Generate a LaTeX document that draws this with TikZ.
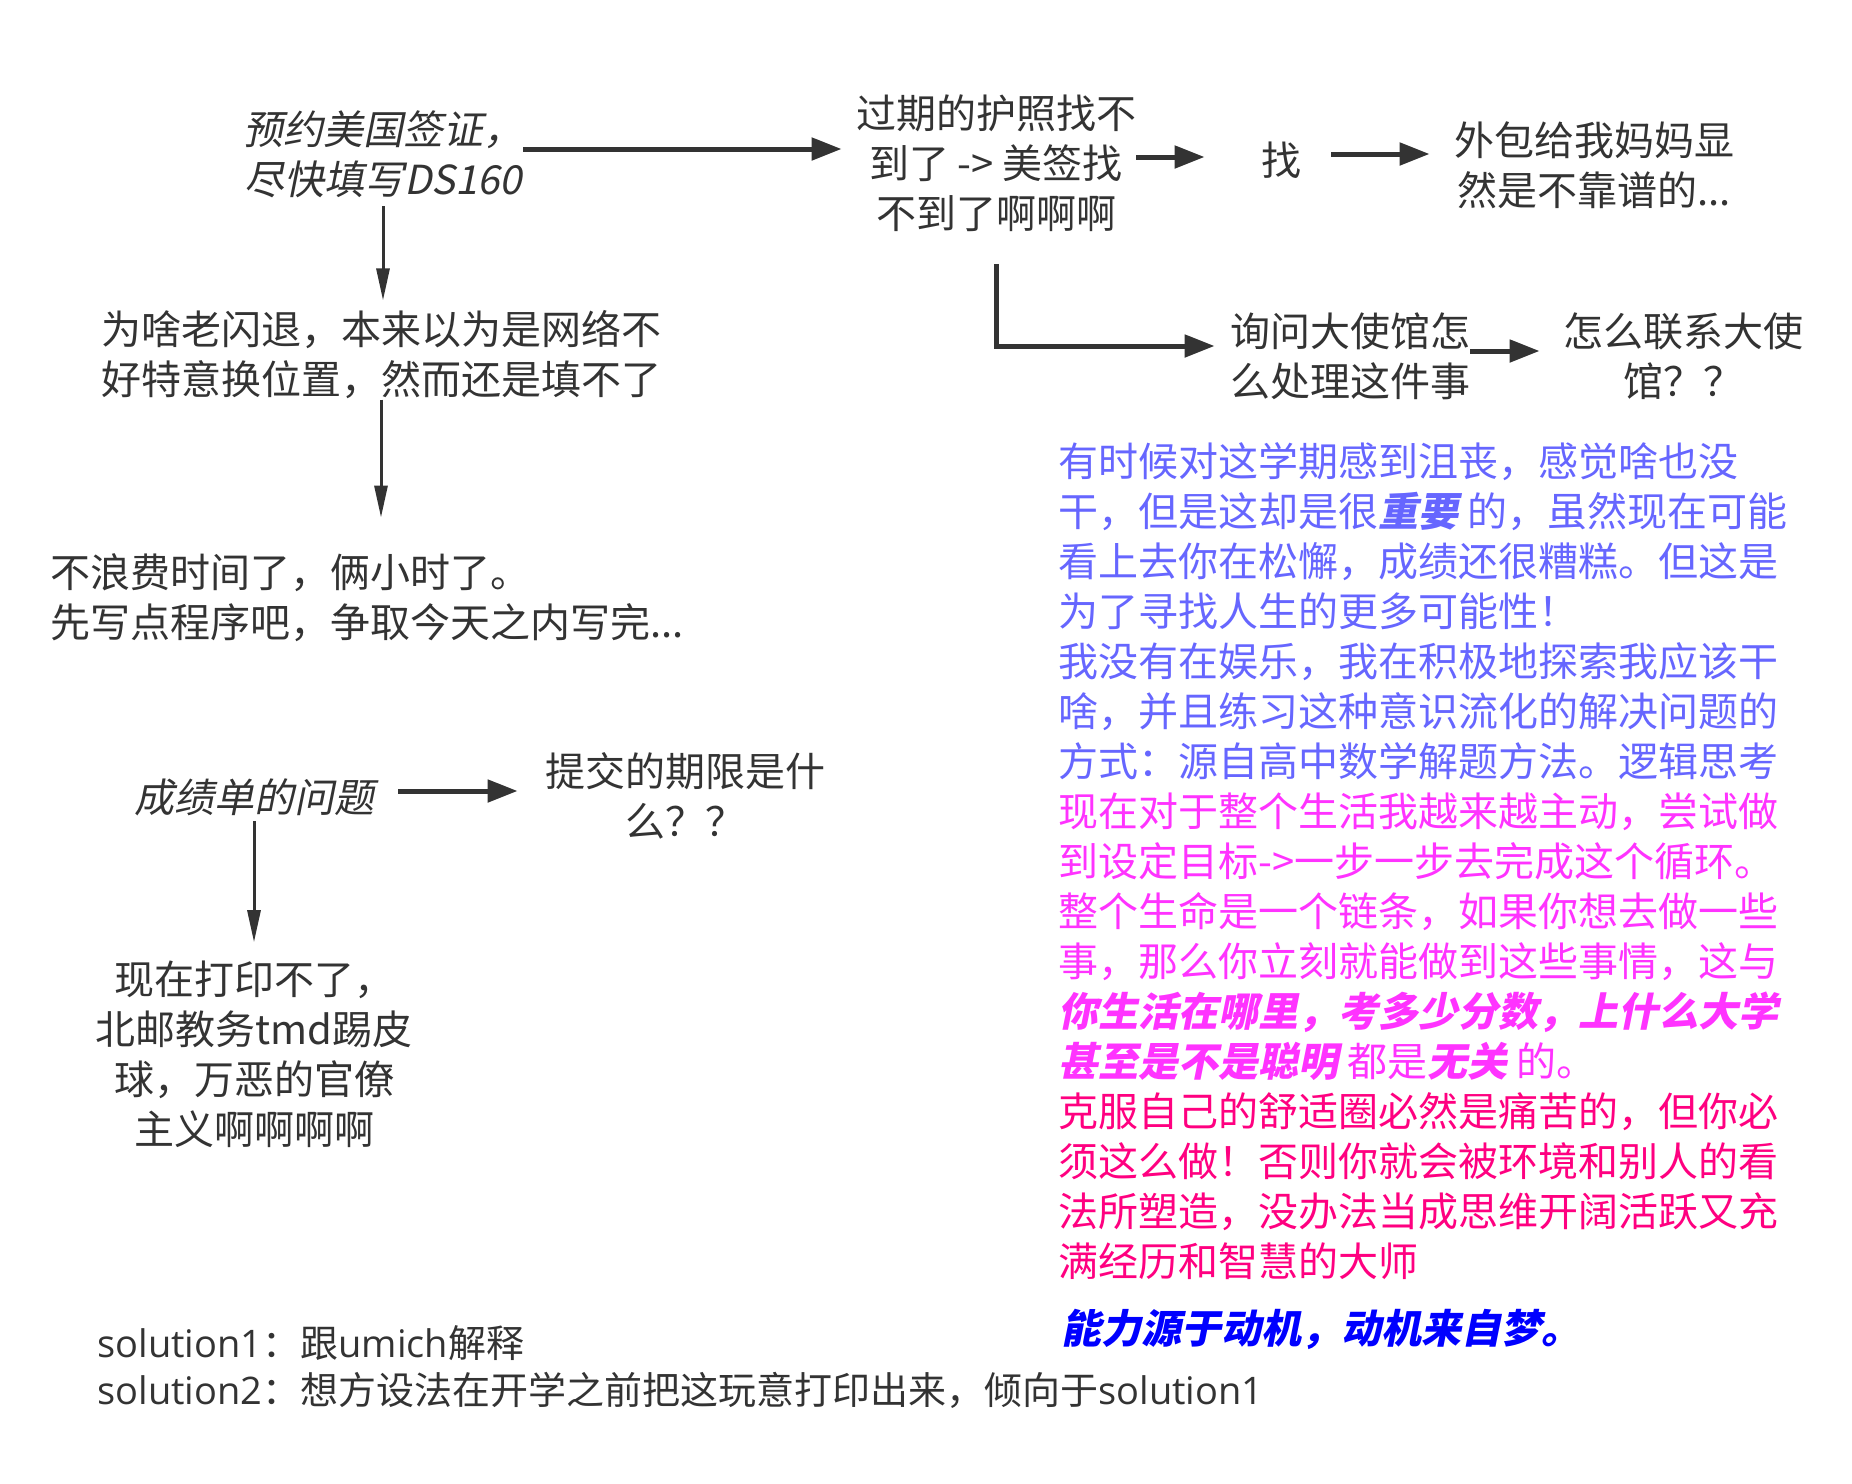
\documentclass[tikz,border=0pt]{standalone}
\usepackage{fontspec}
\setmainfont{Noto Sans CJK SC}
\newfontfamily\slantfont{Noto Sans CJK SC}[FakeSlant=0.2]
\newfontfamily\latinfont{Open Sans}
\usetikzlibrary{arrows.meta,positioning}
\definecolor{inkgray}{HTML}{333333}
\definecolor{calmblue}{HTML}{6666FF}
\definecolor{brightpink}{HTML}{FF33FF}
\definecolor{hotpink}{HTML}{FF0080}
\definecolor{pureblue}{HTML}{0000FF}
\newcommand\bodysize{\fontsize{20}{25}\selectfont}
\newcommand\smallsize{\fontsize{19}{23.5}\selectfont}
\newcommand\strongslant[1]{{\slantfont\bfseries #1}}

\begin{document}
\begin{tikzpicture}[
    x=0.5pt, y=-0.5pt,
    txt/.style={inner sep=0pt, align=center, text=inkgray, font=\bodysize},
    slanted/.style={txt, font=\bodysize\slantfont},
    note/.style={txt, align=left},
    arrow/.style={-{Triangle[length=15pt,width=11pt]}, line width=2.5pt, draw=inkgray},
    thinarrow/.style={-{Triangle[length=16pt,width=6.5pt]}, line width=1.5pt, draw=inkgray}
]
    \useasboundingbox (0,0) rectangle (1852,1483);

    % visa branch
    \node [slanted] (visa) at (383,154) {预约美国签证，\\尽快填写DS160};
    \node [txt] (passport) at (996,163) {过期的护照找不\\到了 -> 美签找\\不到了啊啊啊};
    \node [txt] (find) at (1281,160) {找};
    \node [txt] (outsource) at (1594,165) {外包给我妈妈显\\然是不靠谱的...};
    \node [txt] (askembassy) at (1350,356) {询问大使馆怎\\么处理这件事};
    \node [txt] (contact) at (1683,356) {怎么联系大使\\馆？？};
    \node [txt] (crash) at (381,355) {为啥老闪退，本来以为是网络不\\好特意换位置，然而还是填不了};
    \node [note, anchor=west] (giveup) at (50,598) {不浪费时间了，俩小时了。\\先写点程序吧，争取今天之内写完...};

    \draw [arrow, shorten >=7pt] ([yshift=2.5pt]visa.east) -- ([yshift=2.5pt]visa.east -| passport.west);
    \draw [arrow, shorten >=28pt] ([yshift=3pt]passport.east) -- ([yshift=3pt]passport.east -| find.west);
    \draw [arrow, shorten <=15pt, shorten >=12pt] ([yshift=3pt]find.east) -- ([yshift=3pt]find.east -| outsource.west);
    \draw [arrow, shorten <=16pt, shorten >=7.5pt] (passport.south) |- ([yshift=5pt]askembassy.west);
    \draw [arrow, shorten >=11.5pt] ([yshift=2.5pt]askembassy.east) -- ([yshift=2.5pt]askembassy.east -| contact.west);
    \draw [thinarrow, shorten <=4pt, shorten >=5pt] (visa.south) -- (visa.south |- crash.north);
    \draw [thinarrow, shorten >=18pt] (crash.south) -- (crash.south |- giveup.north);

    % transcript branch
    \node [slanted] (transcript) at (254,797) {成绩单的问题};
    \node [txt] (deadline) at (685,796) {提交的期限是什\\么？？};
    \node [txt] (printing) at (254,1054) {现在打印不了，\\北邮教务tmd踢皮\\球，万恶的官僚\\主义啊啊啊啊};

    \draw [arrow, shorten <=12pt, shorten >=13.5pt] ([yshift=3pt]transcript.east) -- ([yshift=3pt]transcript.east -| deadline.west);
    \draw [thinarrow, shorten <=2.5pt, shorten >=9pt] (transcript.south) -- (transcript.south |- printing.north);

    % reflections
    \node [note, anchor=north west] (reflection) at (1058,442) {%
        \color{calmblue}有时候对这学期感到沮丧，感觉啥也没\\
        \color{calmblue}干，但是这却是很\strongslant{重要} 的，虽然现在可能\\
        \color{calmblue}看上去你在松懈，成绩还很糟糕。但这是\\
        \color{calmblue}为了寻找人生的更多可能性！\\
        \color{calmblue}我没有在娱乐，我在积极地探索我应该干\\
        \color{calmblue}啥，并且练习这种意识流化的解决问题的\\
        \color{calmblue}方式：源自高中数学解题方法。逻辑思考\\
        \color{brightpink}现在对于整个生活我越来越主动，尝试做\\
        \color{brightpink}到设定目标->一步一步去完成这个循环。\\
        \color{brightpink}整个生命是一个链条，如果你想去做一些\\
        \color{brightpink}事，那么你立刻就能做到这些事情，这与\\
        \color{brightpink}\strongslant{你生活在哪里，考多少分数，上什么大学}\\
        \color{brightpink}\strongslant{甚至是不是聪明} 都是\strongslant{无关} 的。\\
        \color{hotpink}克服自己的舒适圈必然是痛苦的，但你必\\
        \color{hotpink}须这么做！否则你就会被环境和别人的看\\
        \color{hotpink}法所塑造，没办法当成思维开阔活跃又充\\
        \color{hotpink}满经历和智慧的大师};
    \node [txt, anchor=west, text=pureblue] (motto) at (1061,1329) {\strongslant{能力源于动机，动机来自梦。}};

    \node [note, anchor=west, font=\smallsize] (solutions) at (97,1367) {{\latinfont solution1}：跟{\latinfont umich}解释\\{\latinfont solution2}：想方设法在开学之前把这玩意打印出来，倾向于{\latinfont solution1}};

\end{tikzpicture}
\end{document}
